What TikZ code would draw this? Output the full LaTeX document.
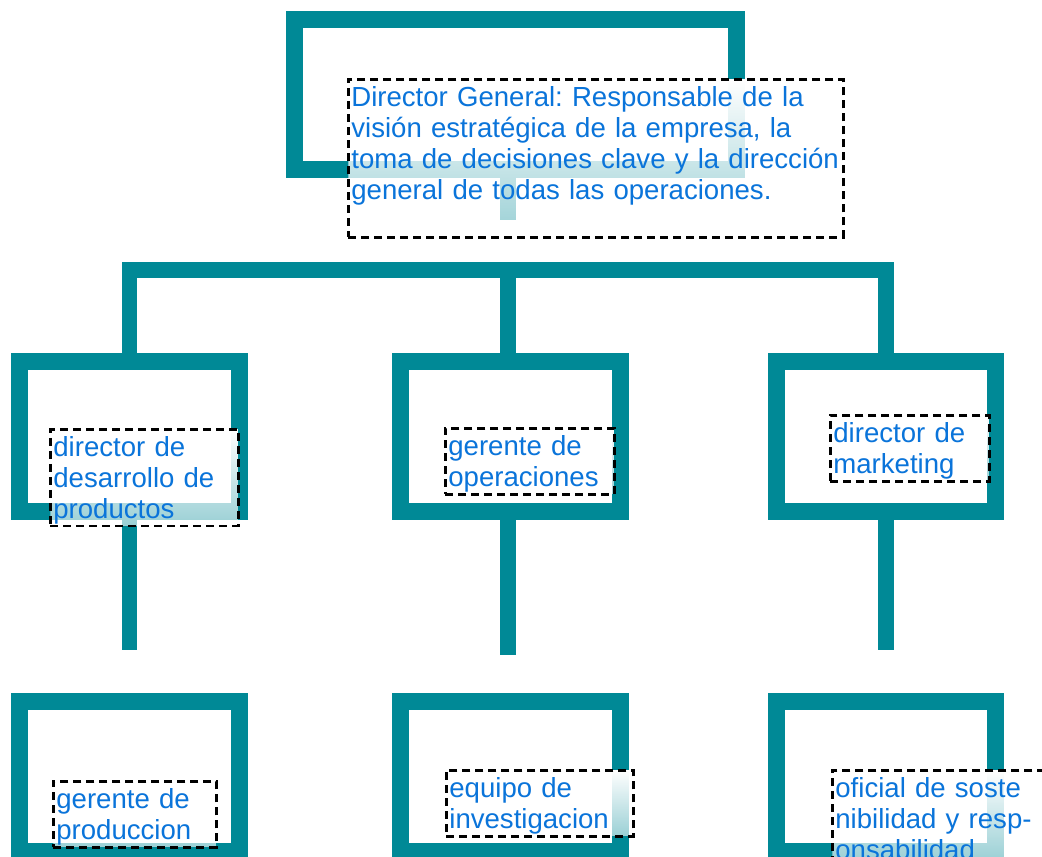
\documentclass[tikz,border=0pt]{standalone}
\usepackage{fontspec}
\setmainfont{Liberation Sans}
\usetikzlibrary{positioning}
\usetikzlibrary{fadings}
\definecolor{orgteal}{RGB}{0,137,150}
\definecolor{txtblue}{RGB}{10,116,218}
\tikzfading[name=paledown, top color=transparent!0, bottom color=transparent!40]
\frenchspacing

\begin{document}
\begin{tikzpicture}[x=0.02cm, y=-0.02cm,
    orgbox/.style={draw=orgteal, line width=0.34cm, minimum width=4.4cm, minimum height=3cm, inner sep=0pt},
    conn/.style={draw=orgteal, line width=0.32cm},
    textbox/.style={draw=black, line width=0.055cm, dash pattern=on 0.16cm off 0.1cm,
      text=txtblue, align=left, anchor=north west, inner sep=0.04cm, text height=0.5cm,
      font=\fontsize{15.7pt}{17.6pt}\selectfont,
      path picture={\fill[white, path fading=paledown] (path picture bounding box.north west) rectangle (path picture bounding box.south east);}}]

  \useasboundingbox (0,0) rectangle (1042,857);
  \clip (0,0) rectangle (1042,857);

  % boxes
  \node[orgbox, minimum width=8.84cm] (dirgen) at (515.5,94.5) {};
  \node[orgbox] (desarrollo) at (129.5,436.5) {};
  \node[orgbox] (operaciones) at (510.5,436.5) {};
  \node[orgbox] (marketing) at (886,436.5) {};
  \node[orgbox, below=3.46cm of desarrollo] (produccion) {};
  \node[orgbox, below=3.46cm of operaciones] (investigacion) {};
  \node[orgbox, below=3.46cm of marketing] (sostenibilidad) {};

  % lines
  \coordinate (stub) at (508,220);
  \coordinate (bus) at (508,270);
  \coordinate (droplevel) at (0,650);
  \coordinate (dropmid) at (508,655);
  \draw[conn] (stub |- dirgen.south) -- (stub);
  \draw[conn] (desarrollo.north) |- (bus) -| (marketing.north);
  \draw[conn] (bus) -- (bus |- operaciones.north);
  \draw[conn] (desarrollo.south) -- (desarrollo.south |- droplevel);
  \draw[conn] (dropmid |- operaciones.south) -- (dropmid);
  \draw[conn] (marketing.south) -- (marketing.south |- droplevel);

  % texts
  \node[textbox, minimum width=9.9cm, text width=9.78cm, text depth=2.58cm] (dirgen-txt) at (347,78)
    {Director General: Responsable de la\\visión estratégica de la empresa, la\\toma de decisiones clave y la dirección\\general de todas las operaciones.};
  \node[textbox, minimum width=3.76cm, minimum height=1.9cm, text width=3.64cm] (desarrollo-txt) at (49,428)
    {director de\\desarrollo de\\productos};
  \node[textbox, minimum width=3.38cm, minimum height=1.32cm, text width=3.26cm] (operaciones-txt) at (444,427)
    {gerente de\\operaciones};
  \node[textbox, minimum width=3.18cm, minimum height=1.32cm, text width=3.06cm] (marketing-txt) at (829,414)
    {director de\\marketing};
  \node[textbox, minimum width=3.26cm, minimum height=1.32cm, text width=3.14cm] (produccion-txt) at (52,780)
    {gerente de\\produccion};
  \node[textbox, minimum width=3.74cm, minimum height=1.32cm, text width=3.62cm] (investigacion-txt) at (445,769)
    {equipo de\\investigacion};
  \node[textbox, minimum width=4.6cm, text width=4.48cm] (sostenibilidad-txt) at (831,769)
    {oficial de soste\\nibilidad y resp-\\onsabilidad};
\end{tikzpicture}
\end{document}
